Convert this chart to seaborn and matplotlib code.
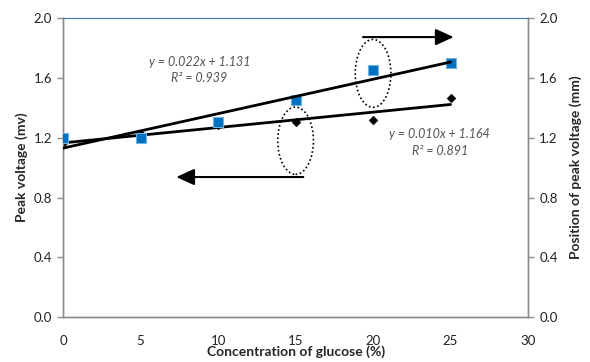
import numpy as np
import pandas as pd
import seaborn as sns
import matplotlib
matplotlib.use("Agg")
import matplotlib.pyplot as plt
from matplotlib.patches import Ellipse

# Data
glucose = [0, 5, 10, 15, 20, 25]
peak_voltage = [1.165, 1.225, 1.285, 1.305, 1.318, 1.465]
peak_position = [1.20, 1.195, 1.305, 1.455, 1.655, 1.70]
y_ticks = [0.0, 0.4, 0.8, 1.2, 1.6, 2.0]
x_ticks = [0, 5, 10, 15, 20, 25, 30]

df = pd.DataFrame({"glucose": glucose, "voltage": peak_voltage, "position": peak_position})

sns.set_style("white")
plt.rcParams["font.family"] = ["Lato", "DejaVu Sans"]

fig, ax = plt.subplots(figsize=(5.9, 3.62), dpi=100)
fig.subplots_adjust(left=0.107, right=0.895, top=0.950, bottom=0.124)
ax2 = ax.twinx()

# voltage (left axis): black diamonds + trendline
sns.regplot(data=df, x="glucose", y="voltage", ax=ax, ci=None, scatter=False,
            color="black", line_kws={"lw": 2.0})
sns.scatterplot(data=df, x="glucose", y="voltage", ax=ax, marker="D", s=20,
                color="black", edgecolor="black", zorder=4)

# position (right axis): blue squares + trendline
sns.scatterplot(data=df, x="glucose", y="position", ax=ax2, marker="s", s=55,
                color="#0070C0", edgecolor="#6fb3e0", linewidth=0.8, zorder=3)
sns.regplot(data=df, x="glucose", y="position", ax=ax2, ci=None, scatter=False,
            color="black", line_kws={"lw": 2.0, "zorder": 4})

for a in (ax, ax2):
    a.set_xlim(0, 30)
    a.set_ylim(0, 2.0)
    a.set_yticks(y_ticks)
    a.set_yticklabels([f"{v:.1f}" for v in y_ticks], fontsize=9.5, color="#222222")
    for s in ("left", "right", "bottom"):
        a.spines[s].set_color("#8c8c8c")
        a.spines[s].set_linewidth(1.0)
    a.spines["top"].set_color("#4a7ebb")
    a.tick_params(axis="both", length=4, width=1, color="#8c8c8c", pad=4)

ax.set_xticks(x_ticks)
ax.set_xticklabels([str(v) for v in x_ticks], fontsize=9.5, color="#222222")
ax.tick_params(axis="x", pad=9)
ax.yaxis.set_ticks_position("left")
ax2.yaxis.set_ticks_position("right")

ax.set_xlabel("Concentration of glucose (%)", fontsize=10, fontweight="bold", labelpad=-1)
ax.set_ylabel("Peak voltage (mv)", fontsize=10, fontweight="bold", labelpad=4)
ax2.set_ylabel("Position of peak voltage (mm)", fontsize=10, fontweight="bold", labelpad=8)

# equations
eq_kw = dict(fontsize=9, style="italic", color="#555555", ha="center", va="center")
ax2.text(8.8, 1.706, "y = 0.022x + 1.131", **eq_kw)
ax2.text(8.8, 1.60, "R² = 0.939", **eq_kw)
ax2.text(24.3, 1.224, "y = 0.010x + 1.164", **eq_kw)
ax2.text(24.3, 1.11, "R² = 0.891", **eq_kw)

# dotted ellipses
ax2.add_patch(Ellipse((15.0, 1.18), 2.3, 0.45, fill=False, ls=(0, (1, 1.5)),
                      lw=1.2, color="black", zorder=5))
ax2.add_patch(Ellipse((20.0, 1.63), 2.3, 0.455, fill=False, ls=(0, (1, 1.5)),
                      lw=1.2, color="black", zorder=5))

# arrows
head = "-|>,head_length=1.1,head_width=0.5"
ax2.annotate("", xy=(7.3, 0.937), xytext=(15.5, 0.937),
             arrowprops=dict(arrowstyle=head, lw=1.5, color="black", shrinkA=0, shrinkB=0))
ax2.annotate("", xy=(25.2, 1.873), xytext=(19.35, 1.873),
             arrowprops=dict(arrowstyle=head, lw=1.5, color="black", shrinkA=0, shrinkB=0))

fig.savefig("out.png", dpi=100)
